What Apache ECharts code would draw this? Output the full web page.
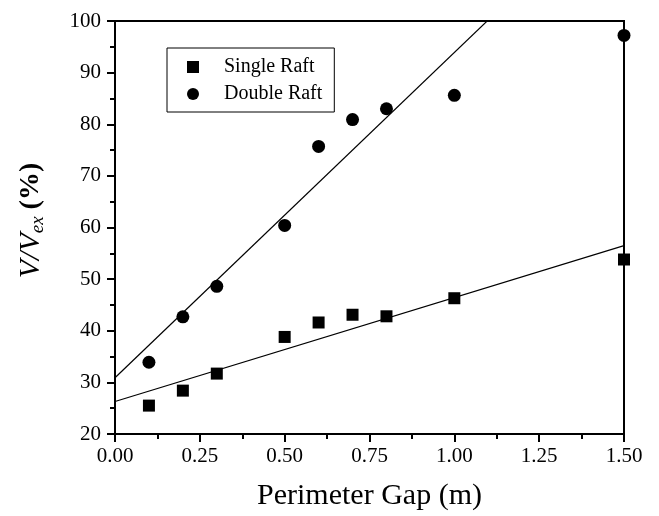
<!DOCTYPE html>
<html>
<head>
<meta charset="utf-8">
<script src="https://cdn.jsdelivr.net/npm/echarts@6/dist/echarts.min.js"></script>
<style>html,body{margin:0;padding:0;background:#fff;}#c{width:659px;height:516px;}</style>
</head>
<body>
<div id="c"></div>
<script>
var gapX = [0.1, 0.2, 0.3, 0.5, 0.6, 0.7, 0.8, 1.0, 1.5];
var singleRaft = [25.5, 28.4, 31.7, 38.8, 41.6, 43.1, 42.8, 46.3, 53.8];
var doubleRaft = [33.9, 42.7, 48.6, 60.4, 75.7, 80.9, 83.0, 85.6, 97.2];
var singleFitX = [0, 1.5];
var singleFitY = [26.3, 56.5];
var doubleFitX = [0, 1.5];
var doubleFitY = [30.9, 125.4];
var seriesNames = ['Single Raft', 'Double Raft'];

function pairs(xs, ys) { return xs.map(function (x, i) { return [x, ys[i]]; }); }

var FONT = "'Liberation Serif', 'Times New Roman', serif";
var chart = echarts.init(document.getElementById('c'));
chart.setOption({
  animation: false,
  backgroundColor: '#fff',
  grid: { left: 115, right: 35, top: 21, bottom: 82, show: true, borderColor: '#000', borderWidth: 2, backgroundColor: 'transparent' },
  legend: {
    data: [{ name: seriesNames[0], icon: 'rect' }, { name: seriesNames[1], icon: 'circle' }],
    orient: 'vertical',
    left: 167, top: 48,
    padding: [9, 12, 8, 20],
    itemWidth: 12, itemHeight: 12,
    itemGap: 7,
    borderColor: '#000', borderWidth: 1,
    itemStyle: { color: '#000', opacity: 1 },
    textStyle: { fontFamily: FONT, fontSize: 20, color: '#000', padding: [0, 0, 0, 20] }
  },
  xAxis: {
    type: 'value', min: 0, max: 1.5, interval: 0.25,
    name: 'Perimeter Gap (m)', nameLocation: 'middle', nameGap: 47,
    nameTextStyle: { fontFamily: FONT, fontSize: 30, color: '#000' },
    axisLine: { show: true, lineStyle: { color: '#000', width: 2 } },
    axisTick: { show: true, inside: false, length: 8, lineStyle: { color: '#000', width: 2 } },
    minorTick: { show: true, splitNumber: 2, length: 5, lineStyle: { color: '#000', width: 2 } },
    splitLine: { show: false },
    axisLabel: { fontFamily: FONT, fontSize: 21, color: '#000', margin: 12, formatter: function (v) { return v.toFixed(2); } }
  },
  yAxis: {
    type: 'value', min: 20, max: 100, interval: 10,
    name: '{i|V/V}{sub|ex}{b| (%)}', nameLocation: 'middle', nameGap: 68, nameRotate: 90,
    nameTextStyle: {
      fontFamily: FONT, color: '#000', padding: [0, 0, 0, 14],
      rich: {
        i: { fontFamily: FONT, fontSize: 30, fontStyle: 'italic', color: '#000', lineHeight: 32 },
        sub: { fontFamily: FONT, fontSize: 19, fontStyle: 'italic', color: '#000', lineHeight: 19, verticalAlign: 'bottom' },
        b: { fontFamily: FONT, fontSize: 28, fontWeight: 'bold', color: '#000', lineHeight: 32 }
      }
    },
    axisLine: { show: true, lineStyle: { color: '#000', width: 2 } },
    axisTick: { show: true, inside: false, length: 8, lineStyle: { color: '#000', width: 2 } },
    minorTick: { show: true, splitNumber: 2, length: 5, lineStyle: { color: '#000', width: 2 } },
    splitLine: { show: false },
    axisLabel: { fontFamily: FONT, fontSize: 21, color: '#000', margin: 14 }
  },
  series: [
    { name: 'Single Raft', type: 'scatter', symbol: 'rect', symbolSize: 12, itemStyle: { color: '#000', opacity: 1 }, data: pairs(gapX, singleRaft), z: 3 },
    { name: 'Double Raft', type: 'scatter', symbol: 'circle', symbolSize: 13, itemStyle: { color: '#000', opacity: 1 }, data: pairs(gapX, doubleRaft), z: 3 },
    { name: 'Single Fit', type: 'line', symbol: 'none', clip: true, lineStyle: { color: '#000', width: 1.2 }, data: pairs(singleFitX, singleFitY), z: 2 },
    { name: 'Double Fit', type: 'line', symbol: 'none', clip: true, lineStyle: { color: '#000', width: 1.2 }, data: pairs(doubleFitX, doubleFitY), z: 2 }
  ]
});
</script>
</body>
</html>
